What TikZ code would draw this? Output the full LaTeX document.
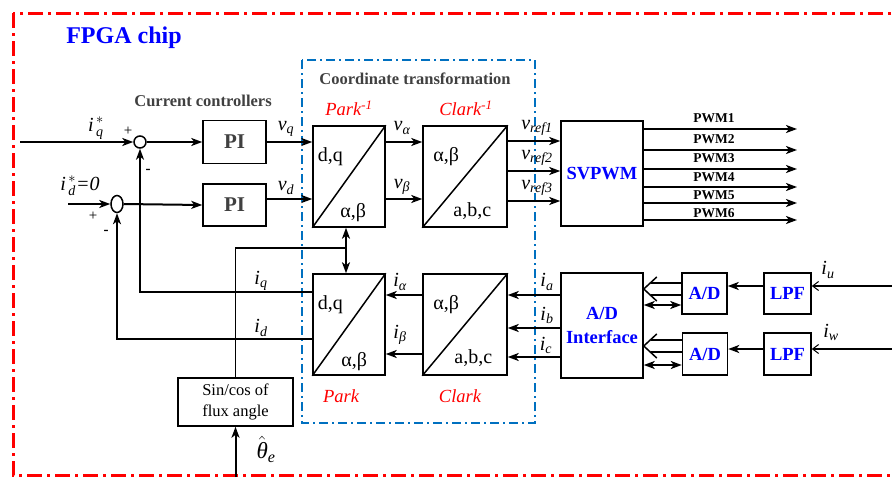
\documentclass[tikz,border=0pt]{standalone}
\usepackage{amsmath}
\usepackage{fontspec}
\setmainfont{Liberation Serif}
\usetikzlibrary{arrows.meta,shapes.geometric,calc}
\definecolor{cblue}{RGB}{0,112,192}
\definecolor{tgray}{RGB}{64,64,64}
\newcommand\fsz[1]{\fontsize{#1}{#1}\selectfont}
\newcommand\vv[2]{$\textit{#1}_{\textit{#2}}$}
\begin{document}
\begin{tikzpicture}[x=1pt,y=-1pt,
  blk/.style={draw, line width=1.5pt, inner sep=0pt, fill=white},
  arr/.style={line width=2pt, -{Stealth[length=11pt,width=8pt,inset=3pt]}},
  darr/.style={line width=2pt, {Stealth[length=11pt,width=8pt,inset=3pt]}-{Stealth[length=11pt,width=8pt,inset=3pt]}},
  tarr/.style={line width=2pt, -{Straight Barb[length=6pt,width=9pt,line width=1pt]}},
  ln/.style={line width=1.6pt},
  thinln/.style={line width=1.3pt},
  hollowln/.style={line width=1.5pt, line join=miter},
  lbl/.style={inner sep=0pt, font=\fsz{20}},
  boxtxt/.style={inner sep=0pt, font=\fsz{20}},
  pwm/.style={inner sep=0pt, font=\fsz{13.5}\bfseries},
  gtitle/.style={inner sep=0pt, font=\fsz{16.5}\bfseries, text=tgray},
  redlbl/.style={inner sep=0pt, font=\fsz{18.5}\itshape, text=red},
  bluetxt/.style={font=\fontsize{18.5}{24}\selectfont\bfseries, text=blue, align=center},
  sumj/.style={draw, line width=1.5pt, inner sep=0pt, fill=white},
  diag/.style={line width=1.5pt}]
\useasboundingbox (0,0) rectangle (892,477);

% outer FPGA frame
\draw[red, line width=3pt, dash pattern=on 15pt off 5pt on 3pt off 5pt] (13,13) rectangle (910,475);
\node[inner sep=0pt, font=\fsz{24}\bfseries, text=blue] (fpga) at (124,38) {FPGA chip};

% coordinate transformation frame
\draw[cblue, line width=1.5pt, dash pattern=on 9pt off 4pt on 2pt off 4pt] (302,60) rectangle (535,423);
\node[gtitle] (cttitle) at (415,79) {Coordinate transformation};
\node[gtitle] (cctitle) at (203,101) {Current controllers};

% blocks
\node[blk, minimum width=63pt, minimum height=43pt, font=\fsz{21}\bfseries, text=tgray] (pi1) at (234.5,142) {PI};
\node[blk, minimum width=63pt, minimum height=42pt, font=\fsz{21}\bfseries, text=tgray] (pi2) at (234.5,205) {PI};
\node[blk, minimum width=72pt, minimum height=101pt] (pinv) at (349,176.5) {};
\node[blk, minimum width=84pt, minimum height=101pt] (cinv) at (465,176.5) {};
\node[blk, minimum width=72pt, minimum height=101pt] (park) at (349,324.5) {};
\node[blk, minimum width=84pt, minimum height=101pt] (clark) at (465,324.5) {};
\node[blk, minimum width=82pt, minimum height=105pt, bluetxt] (svpwm) at (602,173.5) {SVPWM};
\node[blk, minimum width=82pt, minimum height=105pt, bluetxt] (adi) at (602,325.5) {A/D\\Interface};
\node[blk, minimum width=45pt, minimum height=41pt, bluetxt] (ad1) at (704.5,293.5) {A/D};
\node[blk, minimum width=45pt, minimum height=42pt, bluetxt] (ad2) at (705,354) {A/D};
\node[blk, minimum width=47pt, minimum height=41pt, bluetxt] (lpf1) at (787.5,293.5) {LPF};
\node[blk, minimum width=47pt, minimum height=42pt, bluetxt] (lpf2) at (787.5,354) {LPF};
\node[blk, minimum width=115pt, minimum height=48pt, align=center, font=\fontsize{16.5}{21}\selectfont] (sincos) at (235.5,402) {Sin/cos of\\flux angle};

% summing junctions
\node[sumj, circle, minimum size=12pt] (s1) at (140,142) {};
\node[sumj, ellipse, minimum width=12pt, minimum height=17pt] (s2) at (117,204) {};

% diagonals and inner texts
\foreach \b in {pinv,cinv,park,clark} \draw[diag] (\b.south west) -- (\b.north east);
\node[boxtxt] (t1) at ([shift={(18,31)}]pinv.north west) {d,q};
\node[boxtxt] (t2) at ([shift={(41,87)}]pinv.north west) {α,β};
\node[boxtxt] (t3) at ([shift={(24,31)}]cinv.north west) {α,β};
\node[boxtxt] (t4) at ([shift={(50,86)}]cinv.north west) {a,b,c};
\node[boxtxt] (t5) at ([shift={(18,31)}]park.north west) {d,q};
\node[boxtxt] (t6) at ([shift={(42,88)}]park.north west) {α,β};
\node[boxtxt] (t7) at ([shift={(24,31)}]clark.north west) {α,β};
\node[boxtxt] (t8) at ([shift={(51,85)}]clark.north west) {a,b,c};

\node[redlbl] (pk1) at (349,108) {Park\textsuperscript{-1}};
\node[redlbl] (ck1) at (466,108) {Clark\textsuperscript{-1}};
\node[redlbl] (pk) at (341,396) {Park};
\node[redlbl] (ck) at (460,396) {Clark};

% inputs
\coordinate (iq0) at (20,142);
\coordinate (id0) at (68,204);
\draw[arr] (iq0) -- (s1.west);
\draw[arr] (id0) -- (s2.west);
\draw[arr] (s1.east) -- (pi1.west);
\draw[arr] (s2.east) -- (pi2.west);
\node[lbl] (liq) at (96,128) {$\textit{i}^{\,*}_{\,\textit{q}}$};
\node[lbl] (lid) at (80,186) {$\textit{i}^{\,*}_{\,\textit{d}}\textit{=0}$};
\node[inner sep=0pt, font=\fsz{15}] (pl1) at (128,131) {+};
\node[inner sep=0pt, font=\fsz{15}\bfseries] (mi1) at (148,171) {-};
\node[inner sep=0pt, font=\fsz{15}] (pl2) at (93,216) {+};
\node[inner sep=0pt, font=\fsz{15}\bfseries] (mi2) at (106,232) {-};

% PI to Park^-1
\draw[arr] (pi1.east) -- (pinv.west |- pi1.east);
\draw[arr] (pi2.east |- 0,199) -- (pinv.west |- 0,199);
\node[lbl] (lvq) at (286,129) {\vv{v}{q}};
\node[lbl] (lvd) at (286,188) {\vv{v}{d}};

% Park^-1 to Clark^-1
\draw[arr] (pinv.east |- 0,142) -- (cinv.west |- 0,142);
\draw[arr] (pinv.east |- 0,199) -- (cinv.west |- 0,199);
\node[lbl] (lva) at (402,128) {\vv{v}{α}};
\node[lbl] (lvb) at (402,187) {\vv{v}{β}};

% Clark^-1 to SVPWM
\draw[arr] (cinv.east |- 0,141) -- (svpwm.west |- 0,141);
\draw[arr] (cinv.east |- 0,171) -- (svpwm.west |- 0,171);
\draw[arr] (cinv.east |- 0,201) -- (svpwm.west |- 0,201);
\node[lbl] (lr1) at (537,128) {\vv{v}{ref1}};
\node[lbl] (lr2) at (537,158) {\vv{v}{ref2}};
\node[lbl] (lr3) at (537,188) {\vv{v}{ref3}};

% PWM outputs
\foreach \i/\y/\ly in {1/129/118,2/150/139,3/169/158,4/187/177,5/203/195,6/220/213}{
  \coordinate (pw\i) at (797,\y);
  \draw[arr] (svpwm.east |- pw\i) -- (pw\i);
  \node[pwm] (lpw\i) at (714,\ly) {PWM\i};
}

% lower path: A/D interface to Clark to Park
\draw[arr] (adi.west |- 0,295) -- (clark.east |- 0,295);
\draw[arr] (adi.west |- 0,328) -- (clark.east |- 0,328);
\draw[arr] (adi.west |- 0,357) -- (clark.east |- 0,357);
\node[lbl] (lia) at (547,282) {\vv{i}{a}};
\node[lbl] (lib) at (547,315) {\vv{i}{b}};
\node[lbl] (lic) at (546,345) {\vv{i}{c}};
\draw[arr] (clark.west |- 0,295) -- (park.east |- 0,295);
\draw[arr] (clark.west |- 0,354) -- (park.east |- 0,354);
\node[lbl] (lial) at (400,282) {\vv{i}{α}};
\node[lbl] (libe) at (400,335) {\vv{i}{β}};

% feedback
\draw[ln, -{Stealth[length=11pt,width=8pt,inset=3pt]}] (park.west |- 0,292) -| (s1.south);
\draw[ln, -{Stealth[length=11pt,width=8pt,inset=3pt]}] (park.west |- 0,339) -| (s2.south);
\node[lbl] (liq2) at (261,281) {\vv{i}{q}};
\node[lbl] (lid2) at (261,328) {\vv{i}{d}};

% angle path
\coordinate (jn) at (346,248);
\draw[thinln] (sincos.north) |- (jn);
\draw[darr] (pinv.south -| jn) -- (park.north -| jn);
\coordinate (th0) at (235.5,477);
\draw[arr] (th0) -- (sincos.south);
\node[inner sep=0pt, font=\fsz{23}] (lth) at (266,449) {$\hat{\textit{θ}}_{\textit{e}}$};

% A/D chain
\coordinate (iu0) at (892,286);
\coordinate (iw0) at (892,349);
\draw[tarr] (iu0) -- (lpf1.east |- iu0);
\draw[tarr] (iw0) -- (lpf2.east |- iw0);
\node[lbl] (liu) at (828,270) {\vv{i}{u}};
\node[lbl] (liw) at (831,332) {\vv{i}{w}};
\draw[arr] (lpf1.west |- iu0) -- (ad1.east |- iu0);
\draw[arr] (lpf2.west |- iw0) -- (ad2.east |- iw0);
% hollow (bus) arrows
\foreach \src/\yc in {ad1/289,ad2/346}{
  \draw[hollowln] (\src.west |- 0,\yc-6) -- ($(adi.east |- 0,\yc-6)+(7,0)$);
  \draw[hollowln] (\src.west |- 0,\yc+6) -- ($(adi.east |- 0,\yc+6)+(7,0)$);
  \draw[hollowln] ($(adi.east |- 0,\yc)+(13,-12)$) -- (adi.east |- 0,\yc) -- ($(adi.east |- 0,\yc)+(13,12)$);
}
\draw[darr] (adi.east |- 0,305) -- (ad1.west |- 0,305);
\draw[darr] (adi.east |- 0,365) -- (ad2.west |- 0,365);
\end{tikzpicture}
\end{document}
